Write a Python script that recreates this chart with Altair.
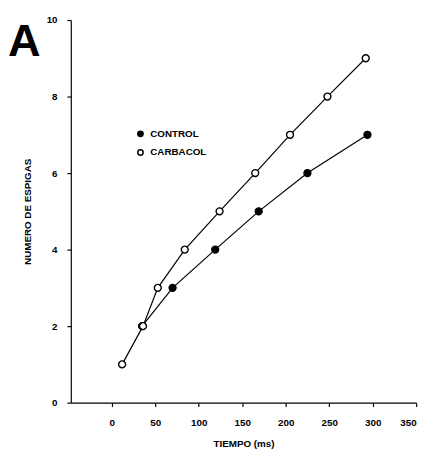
import altair as alt
import pandas as pd

series_names = ["CONTROL", "CARBACOL"]

control_t = [35, 70, 119, 169, 225, 294]
control_n = [2, 3, 4, 5, 6, 7]

carbacol_t = [12, 36, 53, 84, 124, 165, 205, 248, 292]
carbacol_n = [1, 2, 3, 4, 5, 6, 7, 8, 9]

x_ticks = [0, 50, 100, 150, 200, 250, 300, 350]
y_ticks = [0, 2, 4, 6, 8, 10]

rows = []
for t, n in zip(control_t, control_n):
    rows.append({"serie": series_names[0], "t": t, "n": n})
for t, n in zip(carbacol_t, carbacol_n):
    rows.append({"serie": series_names[1], "t": t, "n": n})
df = pd.DataFrame(rows)

FONT = "Liberation Sans"

x_enc = alt.X("t:Q", scale=alt.Scale(domain=[-47, 350], nice=False, zero=False),
              axis=alt.Axis(values=x_ticks, title="TIEMPO (ms)", grid=False,
                            labelPadding=11, tickSize=4, titlePadding=12))
y_enc = alt.Y("n:Q", scale=alt.Scale(domain=[0, 10], nice=False),
              axis=alt.Axis(values=y_ticks, title="NUMERO DE ESPIGAS", grid=False,
                            labelPadding=10, tickSize=4, titlePadding=14))

lines = alt.Chart(df).mark_line(color="black", strokeWidth=1.2).encode(
    x=x_enc, y=y_enc, detail="serie:N"
)

points = alt.Chart(df).mark_point(size=50, stroke="black", strokeWidth=1.4, opacity=1, filled=False).encode(
    x="t:Q", y="n:Q",
    fill=alt.Fill("serie:N", scale=alt.Scale(domain=series_names, range=["black", "white"]),
                  legend=alt.Legend(title=None, orient="none", legendX=66, legendY=111,
                                    symbolSize=30, symbolStrokeColor="black",
                                    labelFontSize=10, labelFontWeight="bold", labelFont=FONT,
                                    rowPadding=7, labelOffset=5, padding=0)),
)

chart = (lines + points).properties(
    width=352, height=390,
    padding={"left": 64, "top": 8, "right": 9, "bottom": 44},
    autosize=alt.AutoSizeParams(type="none"),
    title=alt.TitleParams("A", anchor="start", fontSize=46, fontWeight="bold", font=FONT,
                          dx=-64, dy=56, baseline="top", frame="group"),
).configure_view(stroke=None).configure_axis(
    domainColor="black", tickColor="black", labelColor="black", titleColor="black",
    labelFont=FONT, titleFont=FONT, labelFontWeight="bold", titleFontWeight="bold",
    labelFontSize=10, titleFontSize=10, domainWidth=1.2, tickWidth=1.2,
).configure_axisY(titleAngle=270)

chart.save("out.html", embed_options={"renderer": "svg", "actions": False})
